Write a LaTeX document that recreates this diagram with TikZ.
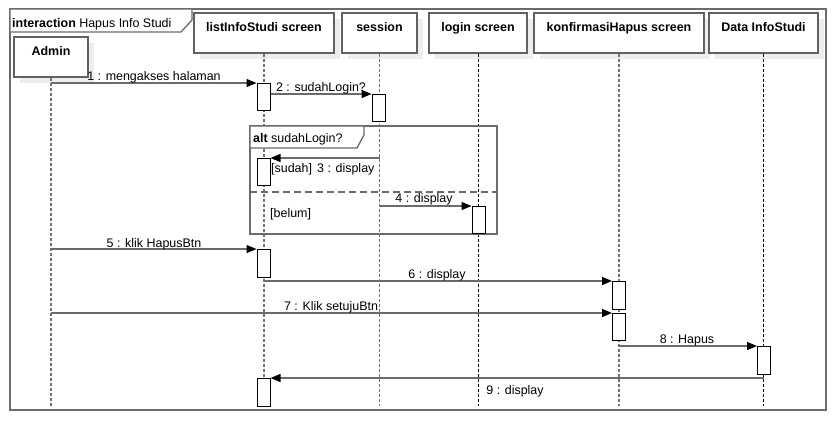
\documentclass[tikz,border=0pt]{standalone}
\usepackage{fontspec}
\setmainfont{Liberation Sans}
\usetikzlibrary{arrows.meta,shadows}
\begin{document}
\begin{tikzpicture}[x=1bp,y=-1bp,
  frameline/.style={draw=black!58, line width=1.3bp},
  head/.style={draw=black!62, line width=1.2bp, fill=white, minimum height=40bp, inner sep=0pt,
    text height=9bp, text depth=12bp, font=\fontsize{12.5}{14}\selectfont\bfseries,
    general shadow={fill=black!7, draw=none, shadow xshift=6bp, shadow yshift=-6bp}},
  lifegrey/.style={draw=black!55, line width=1.3bp, dash pattern=on 3bp off 2bp},
  lifeblack/.style={draw=black, line width=0.8bp, dash pattern=on 3bp off 2bp},
  act/.style={draw=black, line width=1bp, fill=white, minimum width=13bp, inner sep=0pt, anchor=north},
  msg/.style={draw=black!58, line width=1.2bp, -{Triangle[length=10bp,width=8bp,color=black,fill=black]}},
  lbl/.style={font=\fontsize{12.5}{14}\selectfont, anchor=base, inner sep=0pt},
  guard/.style={font=\fontsize{12.5}{14}\selectfont, anchor=base west, inner sep=0pt}
]
\fill[white] (0,0) rectangle (836,420);
\useasboundingbox (0,0) rectangle (836,420);

% outer interaction frame
\draw[frameline] (10,9) rectangle (826,410);
\draw[frameline, fill=white] (10,9) -- (192,9) -- (192,20) -- (181,32) -- (10,32) -- cycle;
\node[guard] (ftitle) at (12,27) {{\bfseries interaction} Hapus Info Studi};

% heads
\node[head, minimum width=74bp]  (hAdmin)   at (51,57)    {Admin};
\node[head, minimum width=140bp] (hList)    at (264,33)   {listInfoStudi screen};
\node[head, minimum width=75bp]  (hSession) at (379.5,33) {session};
\node[head, minimum width=98bp]  (hLogin)   at (478,33)   {login screen};
\node[head, minimum width=170bp] (hKonf)    at (619,33)   {konfirmasiHapus screen};
\node[head, minimum width=109bp] (hData)    at (763.5,33) {Data InfoStudi};

% lifelines
\coordinate (bot) at (0,406);
\draw[lifegrey]  (hAdmin.south)   -- (hAdmin |- bot);
\draw[lifegrey]  (hList.south)    -- (hList |- bot);
\draw[lifegrey]  (hSession.south) -- (hSession |- bot);
\draw[lifeblack] (hLogin.south)   -- (hLogin |- bot);
\draw[lifegrey]  (hKonf.south)    -- (hKonf |- bot);
\draw[lifeblack] (hData.south)    -- (hData |- bot);

% alt fragment
\draw[frameline] (250,126) rectangle (497,234);
\draw[frameline, fill=white] (250,126) -- (364,126) -- (364,135) -- (357,148) -- (250,148) -- cycle;
\node[guard] (altlbl) at (253,142) {{\bfseries alt} sudahLogin?};
\draw[frameline, dash pattern=on 7bp off 4bp] (250,192) -- (497,192);
\node[guard] (gSudah) at (271,172) {[sudah]};
\node[guard] (gBelum) at (270,217) {[belum]};

% activations
\node[act, minimum height=27bp] (a1) at (263.5,83)  {};
\node[act, minimum height=27bp] (a2) at (378.5,94)  {};
\node[act, minimum height=27bp] (a3) at (263.5,158) {};
\node[act, minimum height=27bp] (a4) at (478.5,206) {};
\node[act, minimum height=28bp] (a5) at (263.5,249) {};
\node[act, minimum height=28bp] (a6) at (619,281)   {};
\node[act, minimum height=27bp] (a7) at (619,313)   {};
\node[act, minimum height=28bp] (a8) at (764,346)   {};
\node[act, minimum height=28bp] (a9) at (263.5,378) {};

% messages
\draw[msg] (hAdmin |- a1.north) -- (a1.north west);
\draw[msg] (a1.east |- a2.north) -- (a2.north west);
\draw[msg] (hSession |- a3.north) -- (a3.north east);
\draw[msg] (hSession |- a4.north) -- (a4.north west);
\draw[msg] (hAdmin |- a5.north) -- (a5.north west);
\draw[msg] (hList |- a6.north) -- (a6.north west);
\draw[msg] (hAdmin |- a7.north) -- (a7.north west);
\draw[msg] (hKonf |- a8.north) -- (a8.north west);
\draw[msg] (hData |- a9.north) -- (a9.north east);

% message labels
\node[lbl] (m1) at (154,80)  {1 : mengakses halaman};
\node[lbl] (m2) at (321,91)  {2 : sudahLogin?};
\node[guard] (m3) at (317,172) {3 : display};
\node[lbl] (m4) at (424,202) {4 : display};
\node[lbl] (m5) at (154,247) {5 : klik HapusBtn};
\node[lbl] (m6) at (437,278) {6 : display};
\node[lbl] (m7) at (331,310) {7 : Klik setujuBtn};
\node[lbl] (m8) at (687,343) {8 : Hapus};
\node[lbl] (m9) at (515,394) {9 : display};
\end{tikzpicture}
\end{document}
